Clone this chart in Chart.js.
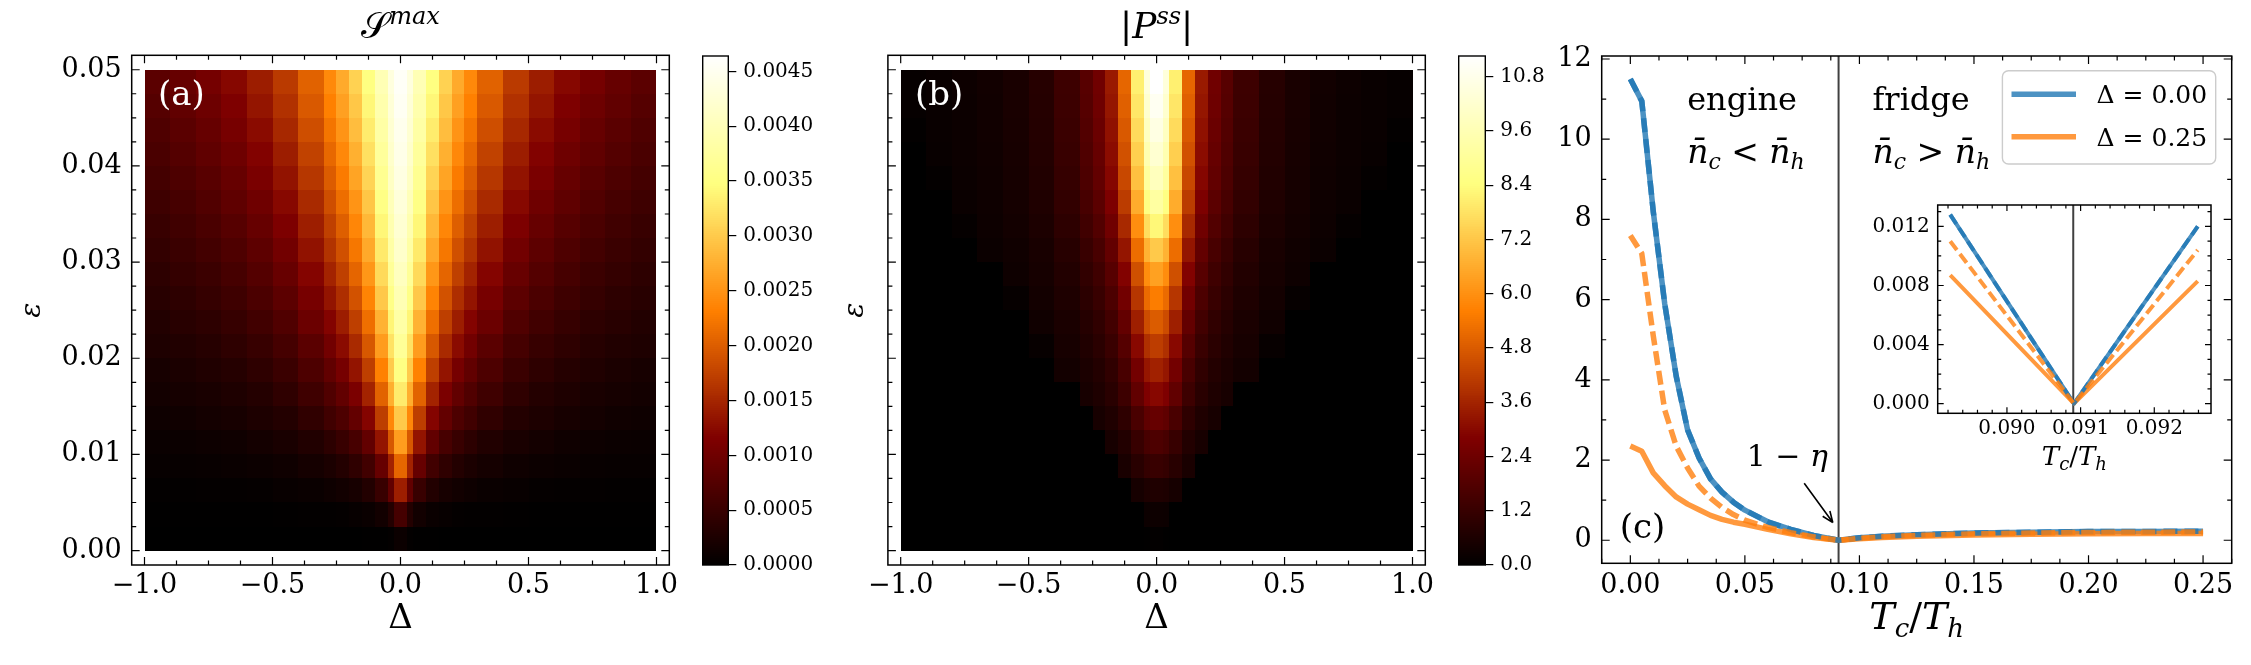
<!DOCTYPE html>
<html>
<head>
<meta charset="utf-8">
<script src="https://cdn.jsdelivr.net/npm/chart.js@4.4.1/dist/chart.umd.min.js"></script>
<style>
  body { margin: 0; background: #fff; }
  #fig { position: relative; width: 2251px; height: 665px; }
  #fig canvas { position: absolute; top: 0; }
</style>
</head>
<body>
<div id="fig">
  <canvas id="heatA" width="710" height="665" style="left:0"></canvas>
  <canvas id="cbarA" width="140" height="665" style="left:690px"></canvas>
  <canvas id="heatB" width="630" height="665" style="left:830px"></canvas>
  <canvas id="cbarB" width="120" height="665" style="left:1445px"></canvas>
  <canvas id="lineC" width="711" height="665" style="left:1540px"></canvas>
  <canvas id="inset" width="371" height="290" style="left:1860px;top:185px"></canvas>
</div>
<script>
// === DATA ===
// heat maps are mirror symmetric in Delta, so only Delta >= 0 is stored; rows go from eps = 0 upward
const deltaEdges = [0, 0.025, 0.05, 0.1, 0.15, 0.2, 0.25, 0.3, 0.4, 0.5, 0.6, 0.7, 0.8, 0.9, 1.0];
const epsEdges = [0, 0.0025, 0.005, 0.0075, 0.01, 0.0125, 0.015, 0.0175, 0.02, 0.0225, 0.025,
                  0.0275, 0.03, 0.0325, 0.035, 0.0375, 0.04, 0.0425, 0.045, 0.0475, 0.05];

// S^max, in units of 1e-3
const sMaxE3 = [
  [0.10, 0.03, 0.01, 0.01, 0, 0, 0, 0, 0, 0, 0, 0, 0, 0],
  [0.63, 0.32, 0.16, 0.09, 0.06, 0.04, 0.03, 0.03, 0.02, 0.01, 0.01, 0.01, 0.01, 0.01],
  [1.43, 0.88, 0.51, 0.31, 0.21, 0.16, 0.13, 0.09, 0.07, 0.05, 0.04, 0.04, 0.03, 0.03],
  [2.09, 1.47, 0.93, 0.59, 0.43, 0.32, 0.25, 0.19, 0.14, 0.11, 0.09, 0.07, 0.06, 0.06],
  [2.59, 1.96, 1.34, 0.89, 0.65, 0.51, 0.40, 0.30, 0.23, 0.18, 0.14, 0.12, 0.10, 0.09],
  [2.99, 2.39, 1.72, 1.20, 0.90, 0.70, 0.58, 0.44, 0.32, 0.26, 0.21, 0.18, 0.15, 0.13],
  [3.30, 2.74, 2.06, 1.48, 1.12, 0.89, 0.73, 0.57, 0.43, 0.33, 0.27, 0.23, 0.20, 0.17],
  [3.51, 3.00, 2.33, 1.73, 1.34, 1.07, 0.88, 0.70, 0.53, 0.42, 0.34, 0.29, 0.25, 0.21],
  [3.69, 3.22, 2.58, 1.96, 1.54, 1.26, 1.04, 0.82, 0.63, 0.50, 0.42, 0.35, 0.30, 0.27],
  [3.83, 3.39, 2.78, 2.17, 1.73, 1.42, 1.19, 0.97, 0.73, 0.59, 0.49, 0.41, 0.36, 0.31],
  [3.96, 3.55, 2.98, 2.36, 1.91, 1.58, 1.34, 1.08, 0.84, 0.68, 0.56, 0.48, 0.41, 0.36],
  [4.06, 3.69, 3.14, 2.53, 2.08, 1.74, 1.48, 1.20, 0.94, 0.76, 0.64, 0.54, 0.47, 0.41],
  [4.17, 3.82, 3.29, 2.70, 2.24, 1.89, 1.62, 1.32, 1.04, 0.85, 0.71, 0.61, 0.53, 0.46],
  [4.23, 3.91, 3.41, 2.83, 2.38, 2.02, 1.74, 1.43, 1.14, 0.93, 0.78, 0.67, 0.58, 0.51],
  [4.30, 4.00, 3.53, 2.96, 2.51, 2.16, 1.87, 1.54, 1.23, 1.01, 0.86, 0.74, 0.64, 0.56],
  [4.38, 4.10, 3.64, 3.09, 2.65, 2.28, 2.00, 1.66, 1.33, 1.11, 0.93, 0.80, 0.70, 0.62],
  [4.43, 4.17, 3.73, 3.20, 2.76, 2.40, 2.11, 1.76, 1.42, 1.18, 1.00, 0.87, 0.76, 0.67],
  [4.48, 4.23, 3.82, 3.31, 2.88, 2.51, 2.22, 1.87, 1.52, 1.26, 1.08, 0.93, 0.82, 0.72],
  [4.53, 4.28, 3.89, 3.41, 2.97, 2.62, 2.32, 1.97, 1.61, 1.35, 1.15, 0.99, 0.88, 0.77],
  [4.57, 4.34, 3.97, 3.49, 3.07, 2.71, 2.41, 2.05, 1.69, 1.42, 1.22, 1.06, 0.93, 0.83]
];
// |P^ss|
const pssAbs = [
  [0.06, 0.02, 0, 0, 0, 0, 0, 0, 0, 0, 0, 0, 0, 0],
  [0.28, 0.26, 0, 0, 0, 0, 0, 0, 0, 0, 0, 0, 0, 0],
  [0.68, 0.63, 0.49, 0, 0, 0, 0, 0, 0, 0, 0, 0, 0, 0],
  [1.24, 1.15, 0.89, 0.56, 0, 0, 0, 0, 0, 0, 0, 0, 0, 0],
  [1.69, 1.57, 1.22, 0.76, 0.51, 0, 0, 0, 0, 0, 0, 0, 0, 0],
  [2.25, 2.09, 1.62, 1.01, 0.68, 0.50, 0, 0, 0, 0, 0, 0, 0, 0],
  [2.98, 2.78, 2.15, 1.34, 0.90, 0.66, 0.51, 0, 0, 0, 0, 0, 0, 0],
  [3.55, 3.30, 2.55, 1.60, 1.06, 0.78, 0.60, 0.43, 0, 0, 0, 0, 0, 0],
  [4.17, 3.87, 3.00, 1.87, 1.25, 0.92, 0.71, 0.50, 0.16, 0, 0, 0, 0, 0],
  [4.84, 4.50, 3.49, 2.18, 1.45, 1.07, 0.82, 0.58, 0.36, 0, 0, 0, 0, 0],
  [5.57, 5.18, 4.01, 2.51, 1.67, 1.23, 0.95, 0.67, 0.42, 0.14, 0, 0, 0, 0],
  [6.36, 5.92, 4.58, 2.86, 1.91, 1.40, 1.08, 0.76, 0.48, 0.32, 0, 0, 0, 0],
  [7.26, 6.75, 5.23, 3.27, 2.18, 1.60, 1.23, 0.87, 0.54, 0.36, 0.25, 0, 0, 0],
  [8.28, 7.70, 5.96, 3.72, 2.48, 1.82, 1.41, 0.99, 0.62, 0.41, 0.29, 0.10, 0, 0],
  [9.18, 8.53, 6.61, 4.13, 2.75, 2.02, 1.56, 1.10, 0.69, 0.46, 0.32, 0.23, 0, 0],
  [9.80, 9.11, 7.05, 4.41, 2.94, 2.16, 1.67, 1.18, 0.73, 0.49, 0.34, 0.24, 0.09, 0],
  [10.25, 9.53, 7.38, 4.61, 3.07, 2.25, 1.74, 1.23, 0.77, 0.51, 0.36, 0.26, 0.18, 0],
  [10.64, 9.90, 7.66, 4.79, 3.19, 2.34, 1.81, 1.28, 0.80, 0.53, 0.37, 0.27, 0.19, 0.06],
  [10.98, 10.21, 7.90, 4.94, 3.29, 2.42, 1.87, 1.32, 0.82, 0.55, 0.38, 0.27, 0.20, 0.13],
  [11.26, 10.47, 8.11, 5.07, 3.38, 2.48, 1.91, 1.35, 0.84, 0.56, 0.39, 0.28, 0.20, 0.14]
];
const sMaxColorTop = 4.64;   // x 1e-3
const pssColorTop = 11.26;

// panel (c): power vs Tc/Th
const tcOverTh = [0, 0.005, 0.01, 0.015, 0.02, 0.025, 0.03, 0.035, 0.04, 0.045, 0.05, 0.06, 0.07, 0.08, 0.0909, 0.1, 0.11, 0.125, 0.15, 0.175, 0.2, 0.225, 0.25];
const powerD000 = [11.5, 10.95, 8.2, 5.9, 4.1, 2.75, 2.05, 1.53, 1.2, 0.95, 0.75, 0.46, 0.27, 0.12, 0, 0.06, 0.1, 0.14, 0.18, 0.2, 0.215, 0.22, 0.225];
const powerD025 = [2.35, 2.22, 1.68, 1.36, 1.08, 0.9, 0.76, 0.62, 0.52, 0.45, 0.4, 0.27, 0.16, 0.07, 0, 0.04, 0.07, 0.1, 0.13, 0.15, 0.16, 0.17, 0.17];
const powerD025Dashed = [7.6, 7.15, 5.1, 3.25, 2.35, 1.8, 1.35, 1.05, 0.82, 0.64, 0.5, 0.32, 0.19, 0.085, 0, 0.05, 0.085, 0.12, 0.16, 0.18, 0.195, 0.2, 0.205];
const carnotRatio = 0.0909;   // 1 - eta

// inset around 1 - eta
const insetTc = [0.08923, 0.09091, 0.09259];
const insetD000 = [0.0128, 0, 0.0120];
const insetD025 = [0.0087, 0, 0.0083];
const insetD025Dashed = [0.0110, 0, 0.0104];

const legendLabels = ['\u0394 = 0.00', '\u0394 = 0.25'];

// === helpers ===
const SERIF = '"DejaVu Serif", serif';
const font = (size, style) => (style ? style + ' ' : '') + size + 'px ' + SERIF;
const BLUE = 'rgba(31,119,180,0.8)';
const ORANGE = 'rgba(255,127,14,0.8)';

Chart.defaults.font.family = SERIF;
Chart.defaults.color = '#000';

function afmhot(t) {
  t = Math.max(0, Math.min(1, t));
  const c = v => Math.round(255 * Math.max(0, Math.min(1, v)));
  return 'rgb(' + c(2 * t) + ',' + c(2 * t - 0.5) + ',' + c(2 * t - 1) + ')';
}
const signed = (v, d) => (v < -1e-12 ? '\u2212' : '') + Math.abs(v).toFixed(d);
const pts = (xs, ys) => xs.map((x, i) => ({ x, y: ys[i] }));

function steps(min, max, step) {
  const out = [];
  for (let k = Math.ceil(min / step - 1e-6); k * step <= max + 1e-12; k++) out.push(k * step);
  return out;
}

function rich(ctx, parts, x, y, align) {
  let w = 0;
  parts.forEach(p => { ctx.font = p[1]; w += ctx.measureText(p[0]).width; });
  let cx = align === 'center' ? x - w / 2 : x;
  ctx.textAlign = 'left';
  ctx.textBaseline = 'alphabetic';
  parts.forEach(p => {
    ctx.font = p[1];
    ctx.fillText(p[0], cx, y + (p[2] || 0));
    cx += ctx.measureText(p[0]).width;
  });
}

// inward ticks on all four sides + frame
function frameTicks(xMinor, yMinor, major, minor) {
  return {
    id: 'frameTicks',
    afterDatasetsDraw(chart) {
      const { ctx, chartArea: a, scales: { x, y } } = chart;
      ctx.save();
      ctx.strokeStyle = '#000';
      ctx.lineWidth = 1.2;
      ctx.beginPath();
      const vx = (v, len) => {
        const p = x.getPixelForValue(v);
        ctx.moveTo(p, a.bottom); ctx.lineTo(p, a.bottom - len);
        ctx.moveTo(p, a.top); ctx.lineTo(p, a.top + len);
      };
      const vy = (v, len) => {
        const p = y.getPixelForValue(v);
        ctx.moveTo(a.left, p); ctx.lineTo(a.left + len, p);
        ctx.moveTo(a.right, p); ctx.lineTo(a.right - len, p);
      };
      steps(x.min, x.max, xMinor).forEach(v => vx(v, minor));
      steps(y.min, y.max, yMinor).forEach(v => vy(v, minor));
      x.ticks.forEach(t => vx(t.value, major));
      y.ticks.forEach(t => vy(t.value, major));
      ctx.stroke();
      ctx.lineWidth = 1.5;
      ctx.strokeRect(a.left, a.top, a.right - a.left, a.bottom - a.top);
      ctx.restore();
    }
  };
}

function heatmap(rows, vmax) {
  return {
    id: 'heatmap',
    beforeDatasetsDraw(chart) {
      const { ctx, scales: { x, y } } = chart;
      ctx.save();
      rows.forEach((row, i) => {
        const yTop = Math.round(y.getPixelForValue(epsEdges[i + 1]));
        const yBot = Math.round(y.getPixelForValue(epsEdges[i]));
        row.forEach((v, j) => {
          ctx.fillStyle = afmhot(v / vmax);
          [[deltaEdges[j], deltaEdges[j + 1]], [-deltaEdges[j + 1], -deltaEdges[j]]].forEach(([lo, hi]) => {
            const x0 = Math.round(x.getPixelForValue(lo));
            const x1 = Math.round(x.getPixelForValue(hi));
            ctx.fillRect(x0, yTop, x1 - x0, yBot - yTop);
          });
        });
      });
      ctx.restore();
    }
  };
}

function heatChart(id, rows, vmax, yWidth, showY, decor) {
  return new Chart(document.getElementById(id), {
    type: 'scatter',
    data: { datasets: [] },
    options: {
      responsive: false,
      animation: false,
      layout: { padding: { left: 0, top: 55.3, right: id === 'heatA' ? 40.7 : 34.7, bottom: 0 } },
      plugins: { legend: { display: false }, tooltip: { enabled: false } },
      scales: {
        x: {
          type: 'linear', min: -1.05, max: 1.05,
          afterFit: s => { s.height = 100; },
          grid: { display: false, drawTicks: false }, border: { display: false },
          ticks: { stepSize: 0.5, includeBounds: false, padding: 5, font: { size: 27 }, callback: v => signed(v, 1) }
        },
        y: {
          type: 'linear', min: -0.0015, max: 0.0515,
          afterFit: s => { s.width = yWidth; },
          grid: { display: false, drawTicks: false }, border: { display: false },
          ticks: { display: showY, stepSize: 0.01, includeBounds: false, padding: 10, font: { size: 27 }, callback: v => v.toFixed(2) }
        }
      }
    },
    plugins: [heatmap(rows, vmax), frameTicks(0.125, 0.0025, 8, 4.5), decor]
  });
}

function colorbar(id, vmax, step, digits, leftPad, axisWidth) {
  return new Chart(document.getElementById(id), {
    type: 'scatter',
    data: { datasets: [] },
    options: {
      responsive: false,
      animation: false,
      layout: { padding: { left: leftPad, top: 56, right: 0, bottom: 100 } },
      plugins: { legend: { display: false }, tooltip: { enabled: false } },
      scales: {
        x: { type: 'linear', display: false, min: 0, max: 1 },
        y: {
          type: 'linear', position: 'right', min: 0, max: vmax,
          afterFit: s => { s.width = axisWidth; },
          grid: { display: true, drawOnChartArea: false, drawTicks: true, tickLength: 8, color: '#000', lineWidth: 1.2 },
          border: { display: false },
          ticks: { stepSize: step, includeBounds: false, padding: 7, font: { size: 20 }, callback: v => v.toFixed(digits) }
        }
      }
    },
    plugins: [{
      id: 'cbarFill',
      beforeDatasetsDraw(chart) {
        const { ctx, chartArea: a, scales: { y } } = chart;
        const n = 256;
        ctx.save();
        for (let i = 0; i < n; i++) {
          const p0 = y.getPixelForValue(vmax * i / n);
          const p1 = y.getPixelForValue(vmax * (i + 1) / n);
          ctx.fillStyle = afmhot((i + 0.5) / n);
          ctx.fillRect(a.left, Math.floor(p1), a.right - a.left, Math.ceil(p0) - Math.floor(p1));
        }
        ctx.strokeStyle = '#000';
        ctx.lineWidth = 1.4;
        ctx.strokeRect(a.left, a.top, a.right - a.left, a.bottom - a.top);
        ctx.restore();
      }
    }]
  });
}

// === (a) S^max ===
heatChart('heatA', sMaxE3, sMaxColorTop, 131.7, true, {
  id: 'decorA',
  afterDraw(chart) {
    const { ctx, chartArea: a } = chart;
    const cx = (a.left + a.right) / 2;
    ctx.save();
    ctx.fillStyle = '#000';
    rich(ctx, [['\uD835\uDCAE', font(36)], ['max', font(24, 'italic'), -14]], cx, a.top - 17.5, 'center');
    rich(ctx, [['\u0394', font(34)]], cx, a.bottom + 63, 'center');
    ctx.translate(a.left - 98.5, (a.top + a.bottom) / 2);
    ctx.rotate(-Math.PI / 2);
    ctx.font = font(28, 'italic');
    ctx.textAlign = 'center';
    ctx.textBaseline = 'middle';
    ctx.fillText('\u03B5', 0, 0);
    ctx.restore();
    ctx.save();
    ctx.fillStyle = '#fff';
    rich(ctx, [['(a)', font(34)]], a.left + 26.3, a.top + 50);
    ctx.restore();
  }
});
colorbar('cbarA', sMaxColorTop * 1e-3, 0.0005, 4, 12.7, 101.7);

// === (b) |P^ss| ===
heatChart('heatB', pssAbs, pssColorTop, 57.9, false, {
  id: 'decorB',
  afterDraw(chart) {
    const { ctx, chartArea: a } = chart;
    const cx = (a.left + a.right) / 2;
    ctx.save();
    ctx.fillStyle = '#000';
    rich(ctx, [['|', font(36)], ['P', font(36, 'italic')], ['ss', font(24, 'italic'), -14], ['|', font(36)]], cx, a.top - 17.5, 'center');
    rich(ctx, [['\u0394', font(34)]], cx, a.bottom + 63, 'center');
    ctx.translate(a.left - 32, (a.top + a.bottom) / 2);
    ctx.rotate(-Math.PI / 2);
    ctx.font = font(28, 'italic');
    ctx.textAlign = 'center';
    ctx.textBaseline = 'middle';
    ctx.fillText('\u03B5', 0, 0);
    ctx.restore();
    ctx.save();
    ctx.fillStyle = '#fff';
    rich(ctx, [['(b)', font(34)]], a.left + 27, a.top + 50);
    ctx.restore();
  }
});
colorbar('cbarB', pssColorTop, 1.2, 1, 13.7, 79.7);

// === (c) power ===
function tcTh(ctx, x, y, big, small) {
  rich(ctx, [['T', font(big, 'italic')], ['c', font(small, 'italic'), big * 0.2], ['/', font(big)],
             ['T', font(big, 'italic')], ['h', font(small, 'italic'), big * 0.2]], x, y, 'center');
}
function vline(chart, v) {
  const { ctx, chartArea: a, scales: { x } } = chart;
  const p = x.getPixelForValue(v);
  ctx.save();
  ctx.strokeStyle = 'rgba(30,30,30,0.85)';
  ctx.lineWidth = 2;
  ctx.beginPath();
  ctx.moveTo(p, a.top);
  ctx.lineTo(p, a.bottom);
  ctx.stroke();
  ctx.restore();
}
const lineStyle = (color, width, dash) => ({ borderColor: color, borderWidth: width, borderDash: dash || [], pointRadius: 0, tension: 0, borderCapStyle: 'butt', borderJoinStyle: 'round' });

new Chart(document.getElementById('lineC'), {
  type: 'line',
  data: {
    datasets: [
      Object.assign({ label: 'd025dash', data: pts(tcOverTh, powerD025Dashed) }, lineStyle(ORANGE, 5.5, [14, 6])),
      Object.assign({ label: 'd000dash', data: pts(tcOverTh, powerD000) }, lineStyle(BLUE, 5.5, [14, 7])),
      Object.assign({ label: legendLabels[1], data: pts(tcOverTh, powerD025) }, lineStyle(ORANGE, 5.5)),
      Object.assign({ label: legendLabels[0], data: pts(tcOverTh, powerD000) }, lineStyle(BLUE, 5.5))
    ]
  },
  options: {
    responsive: false,
    animation: false,
    layout: { padding: { left: 0, top: 56, right: 19.3, bottom: 0 } },
    plugins: { legend: { display: false }, tooltip: { enabled: false } },
    scales: {
      x: {
        type: 'linear', min: -0.0125, max: 0.2625,
        afterFit: s => { s.height = 101.7; },
        grid: { display: false, drawTicks: false }, border: { display: false },
        ticks: { stepSize: 0.05, includeBounds: false, padding: 6.5, font: { size: 27 }, callback: v => signed(v, 2) }
      },
      y: {
        type: 'linear', min: -0.575, max: 12.075,
        afterFit: s => { s.width = 61.7; },
        grid: { display: false, drawTicks: false }, border: { display: false },
        ticks: { stepSize: 2, includeBounds: false, padding: 10, font: { size: 27 }, callback: v => signed(v, 0) }
      }
    }
  },
  plugins: [frameTicks(0.0125, 1, 8, 4.5), {
    id: 'decorC',
    beforeDatasetsDraw(chart) { vline(chart, carnotRatio); },
    afterDatasetsDraw(chart) {
      // legend box
      const { ctx, chartArea: a } = chart;
      const lx = a.right - 229.3, ly = a.top + 14.7;
      ctx.save();
      ctx.fillStyle = 'rgba(255,255,255,0.8)';
      ctx.strokeStyle = '#cccccc';
      ctx.lineWidth = 1.4;
      ctx.beginPath();
      ctx.roundRect(lx, ly, 213.3, 93.3, 6);
      ctx.fill();
      ctx.stroke();
      [[BLUE, legendLabels[0]], [ORANGE, legendLabels[1]]].forEach(([c, label], i) => {
        const yy = ly + 23.6 + i * 42.4;
        ctx.strokeStyle = c;
        ctx.lineWidth = 5.5;
        ctx.beginPath();
        ctx.moveTo(lx + 9.1, yy);
        ctx.lineTo(lx + 73.6, yy);
        ctx.stroke();
        ctx.fillStyle = '#000';
        rich(ctx, [[label, font(25)]], lx + 94.2, yy + 9);
      });
      ctx.restore();
    },
    afterDraw(chart) {
      const { ctx, chartArea: a, scales: { x, y } } = chart;
      const X = v => x.getPixelForValue(v), Y = v => y.getPixelForValue(v);
      ctx.save();
      ctx.fillStyle = '#000';
      tcTh(ctx, (a.left + a.right) / 2, a.bottom + 65.7, 38, 26);
      rich(ctx, [['engine', font(32)]], X(0.0248), Y(10.73));
      rich(ctx, [['n\u0304', font(33, 'italic')], ['c', font(22, 'italic'), 6], [' < ', font(33)], ['n\u0304', font(33, 'italic')], ['h', font(22, 'italic'), 6]], X(0.0248), Y(9.41));
      rich(ctx, [['fridge', font(32)]], X(0.1057), Y(10.73));
      rich(ctx, [['n\u0304', font(33, 'italic')], ['c', font(22, 'italic'), 6], [' > ', font(33)], ['n\u0304', font(33, 'italic')], ['h', font(22, 'italic'), 6]], X(0.1057), Y(9.41));
      rich(ctx, [['1 \u2212 ', font(30)], ['\u03B7', font(30, 'italic')]], X(0.0508), Y(1.85));
      rich(ctx, [['(c)', font(34)]], X(-0.0046), Y(0.05));
      // arrow to 1 - eta
      const x0 = X(0.0759), y0 = Y(1.42), x1 = X(0.0884), y1 = Y(0.44);
      const ang = Math.atan2(y1 - y0, x1 - x0);
      ctx.strokeStyle = '#000';
      ctx.lineWidth = 1.6;
      ctx.beginPath();
      ctx.moveTo(x0, y0);
      ctx.lineTo(x1, y1);
      [-1, 1].forEach(s => {
        ctx.moveTo(x1, y1);
        ctx.lineTo(x1 - 12 * Math.cos(ang + s * 0.38), y1 - 12 * Math.sin(ang + s * 0.38));
      });
      ctx.stroke();
      ctx.restore();
    }
  }]
});

// === inset ===
new Chart(document.getElementById('inset'), {
  type: 'line',
  data: {
    datasets: [
      Object.assign({ data: pts(insetTc, insetD025Dashed) }, lineStyle(ORANGE, 4, [11, 5])),
      Object.assign({ data: pts(insetTc, insetD000) }, lineStyle(BLUE, 4, [11, 5])),
      Object.assign({ data: pts(insetTc, insetD025) }, lineStyle(ORANGE, 4)),
      Object.assign({ data: pts(insetTc, insetD000) }, lineStyle(BLUE, 4))
    ]
  },
  options: {
    responsive: false,
    animation: false,
    layout: { padding: { left: 0, top: 12.3, right: 20, bottom: 0 } },
    plugins: { legend: { display: false }, tooltip: { enabled: false } },
    scales: {
      x: {
        type: 'linear', min: 0.08906, max: 0.09277,
        afterFit: s => { s.height = 61.7; },
        grid: { display: false, drawTicks: false }, border: { display: false },
        ticks: { stepSize: 0.001, includeBounds: false, padding: 3, font: { size: 20 }, callback: v => v.toFixed(3) }
      },
      y: {
        type: 'linear', min: -0.00065, max: 0.01345,
        afterFit: s => { s.width = 77.7; },
        grid: { display: false, drawTicks: false }, border: { display: false },
        ticks: { stepSize: 0.004, includeBounds: false, padding: 8, font: { size: 20 }, callback: v => v.toFixed(3) }
      }
    }
  },
  plugins: [frameTicks(0.0002, 0.001, 6, 3.5), {
    id: 'decorInset',
    beforeDraw(chart) {
      const { ctx, chartArea: a } = chart;
      ctx.save();
      ctx.fillStyle = '#fff';
      ctx.fillRect(a.left, a.top, a.right - a.left, a.bottom - a.top);
      ctx.restore();
    },
    beforeDatasetsDraw(chart) { vline(chart, carnotRatio); },
    afterDraw(chart) {
      const { ctx, chartArea: a } = chart;
      ctx.save();
      ctx.fillStyle = '#000';
      tcTh(ctx, (a.left + a.right) / 2, a.bottom + 51.7, 26, 18);
      ctx.restore();
    }
  }]
});
</script>
</body>
</html>
